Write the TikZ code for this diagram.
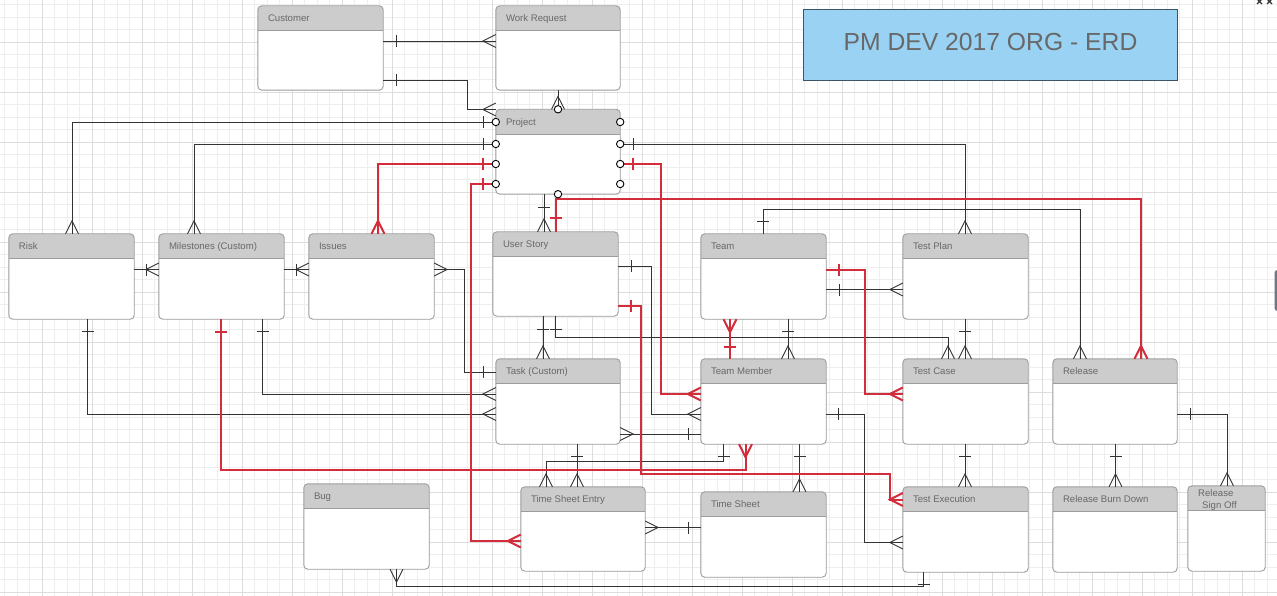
\documentclass[tikz,border=0pt]{standalone}
\usepackage{fontspec}
\setmainfont{Liberation Sans}
\usetikzlibrary{calc}
\definecolor{gridminor}{HTML}{EEEEEE}
\definecolor{gridmajor}{HTML}{DDDDDD}
\definecolor{headgray}{HTML}{CCCCCC}
\definecolor{entline}{HTML}{9C9C9C}
\definecolor{txtgray}{HTML}{686868}
\definecolor{relblack}{HTML}{333333}
\definecolor{relred}{RGB}{211,45,60}
\definecolor{titleblue}{RGB}{153,210,242}
\definecolor{titleborder}{HTML}{3D5366}
\definecolor{tabgray}{HTML}{6F7882}
\tikzset{
  rel/.style={draw=relblack, line width=0.9pt},
  relr/.style={draw=relred, line width=2pt},
  crowB/.pic={\draw[relblack, line width=0.9pt] (0,-6.5) -- (13,0) -- (0,6.5);},
  crowR/.pic={\draw[relred, line width=2pt] (0,-6.5) -- (13,0) -- (0,6.5);},
  barB/.pic={\draw[relblack, line width=0.9pt] (0,-6) -- (0,6);},
  barR/.pic={\draw[relred, line width=2pt] (0,-6) -- (0,6);},
  optc/.style={draw=black, fill=white, line width=0.9pt},
  enttitle/.style={anchor=base west, text=txtgray, font=\fontsize{9.6}{11.5}\selectfont, inner sep=0},
}
\newcommand\ent[6]{%
  \node[fill=white, rounded corners=4pt, inner sep=0, minimum width={(#4-#2)*1pt}, minimum height={(#5-#3)*1pt}] (#1) at ({(#2+#4)/2},{(#3+#5)/2}) {};
  \begin{scope}
    \clip[rounded corners=4pt] (#1.north west) rectangle (#1.south east);
    \fill[headgray] (#1.north west) rectangle ($(#1.north east)+(0,25)$);
  \end{scope}
  \draw[entline, line width=0.9pt] ($(#1.north west)+(0,25)$) -- ($(#1.north east)+(0,25)$);
  \draw[entline, line width=0.9pt, rounded corners=4pt] (#1.north west) rectangle (#1.south east);
  \node[enttitle] at ($(#1.north west)+(10,16)$) {#6};
}
\begin{document}
\begin{tikzpicture}[x=1pt,y=-1pt]
\useasboundingbox (0,0) rectangle (1277,596);
\fill[white] (0,0) rectangle (1277,596);
% grid
\foreach \i in {0,...,102} {
  \draw[gridminor, line width=0.8pt] ({4.5+12.5*\i},0) -- ({4.5+12.5*\i},596);
}
\foreach \i in {0,...,48} {
  \draw[gridminor, line width=0.8pt] (0,{4.5+12.5*\i}) -- (1277,{4.5+12.5*\i});
}
\foreach \i in {0,...,25} {
  \draw[gridmajor, line width=0.8pt] ({42+50*\i},0) -- ({42+50*\i},596);
}
\foreach \i in {0,...,11} {
  \draw[gridmajor, line width=0.8pt] (0,{42+50*\i}) -- (1277,{42+50*\i});
}
% side tab and corner marks
\fill[tabgray, rounded corners=3pt] (1274.5,270) rectangle (1286,311);
\draw[relblack, line width=1.3pt] (1257,-1) -- (1262,4) (1262,-1) -- (1257,4) (1267,-1) -- (1272,4) (1272,-1) -- (1267,4);

% title
\node[draw=titleborder, fill=titleblue, line width=0.9pt, minimum width=374pt, minimum height=71pt, inner sep=0] (title) at (990.5,44.8) {};
\node[anchor=base, text=txtgray, font=\fontsize{24.7}{28}\selectfont, inner sep=0] (titletext) at (990.5,51) {PM DEV 2017 ORG - ERD};

% entities
\ent{cust}{258}{6}{383}{90}{Customer}
\ent{wr}{496}{6}{620}{90}{Work Request}
\ent{proj}{496}{109.5}{620}{194}{Project}
\ent{risk}{9}{234}{134}{319}{Risk}
\ent{mile}{159}{234}{284}{319}{Milestones (Custom)}
\ent{iss}{309}{234}{434}{319}{Issues}
\ent{us}{493}{232}{618}{316}{User Story}
\ent{team}{701}{234}{826}{319}{Team}
\ent{tp}{903}{234}{1028}{319}{Test Plan}
\ent{task}{496}{359}{620}{444}{Task (Custom)}
\ent{tm}{701}{359}{826}{444}{Team Member}
\ent{tc}{903}{359}{1028}{444}{Test Case}
\ent{rls}{1053}{359}{1177}{444}{Release}
\ent{bug}{304}{484}{429}{569}{Bug}
\ent{tse}{521}{487}{645}{571}{Time Sheet Entry}
\ent{ts}{701}{492}{826}{577}{Time Sheet}
\ent{te}{903}{487}{1028}{572}{Test Execution}
\ent{rbd}{1053}{487}{1177}{572}{Release Burn Down}
\ent{rso}{1188}{486}{1265}{571}{}
\node[enttitle] (rsoa) at (1198,496) {Release};
\node[enttitle] (rsob) at (1202,508) {Sign Off};

% ---- black connectors
\draw[rel] (cust.east |- 0,41) -- (wr.west |- 0,41);
\path (396,41) pic{barB} (wr.west |- 0,41) pic[rotate=180]{crowB};

\draw[rel] (cust.east |- 0,80) -- (467,80) -- (467,109.5) -- (proj.west |- 0,109.5);
\path (396,80) pic{barB} (proj.west |- 0,109.5) pic[rotate=180]{crowB};

\draw[rel] (558,0 |- wr.south) -- (558,0 |- proj.north);
\path (558,0 |- proj.north) pic[rotate=90]{crowB};

\draw[rel] (proj.west |- 0,122) -- (72,122) -- (72,0 |- risk.north);
\path (483,122) pic{barB} (72,0 |- risk.north) pic[rotate=90]{crowB};

\draw[rel] (proj.west |- 0,144) -- (194,144) -- (194,0 |- mile.north);
\path (483,144) pic{barB} (194,0 |- mile.north) pic[rotate=90]{crowB};

\draw[rel] (544,0 |- proj.south) -- (544,0 |- us.north);
\path (544,207) pic[rotate=90]{barB} (544,0 |- us.north) pic[rotate=90]{crowB};

\draw[rel] (proj.east |- 0,144) -- (965,144) -- (965,0 |- tp.north);
\path (633,144) pic{barB} (965,0 |- tp.north) pic[rotate=90]{crowB};

\draw[rel] (763,0 |- team.north) -- (763,209) -- (1080,209) -- (1080,0 |- rls.north);
\path (763,221) pic[rotate=90]{barB} (1080,0 |- rls.north) pic[rotate=90]{crowB};

\draw[rel] (543,0 |- us.south) -- (543,0 |- task.north);
\path (543,329) pic[rotate=90]{barB} (543,0 |- task.north) pic[rotate=90]{crowB};

\draw[rel] (555.5,0 |- us.south) -- (555.5,337) -- (948,337) -- (948,0 |- tc.north);
\path (555.5,329) pic[rotate=90]{barB} (948,0 |- tc.north) pic[rotate=90]{crowB};

\draw[rel] (us.east |- 0,266) -- (651.5,266) -- (651.5,414) -- (tm.west |- 0,414);
\path (631,266) pic{barB} (tm.west |- 0,414) pic[rotate=180]{crowB};

\draw[rel] (788,0 |- team.south) -- (788,0 |- tm.north);
\path (788,331.5) pic[rotate=90]{barB} (788,0 |- tm.north) pic[rotate=90]{crowB};

\draw[rel] (team.east |- 0,289.5) -- (tp.west |- 0,289.5);
\path (839,289.5) pic{barB} (tp.west |- 0,289.5) pic[rotate=180]{crowB};

\draw[rel] (965,0 |- tp.south) -- (965,0 |- tc.north);
\path (965,331.5) pic[rotate=90]{barB} (965,0 |- tc.north) pic[rotate=90]{crowB};

\draw[rel] (iss.east |- 0,269.5) -- (464.5,269.5) -- (464.5,372) -- (task.west |- 0,372);
\path (iss.east |- 0,269.5) pic{crowB} (483.3,372) pic{barB};

\draw[rel] (262.5,0 |- mile.south) -- (262.5,394) -- (task.west |- 0,394);
\path (262.5,331.5) pic[rotate=90]{barB} (task.west |- 0,394) pic[rotate=180]{crowB};

\draw[rel] (87.5,0 |- risk.south) -- (87.5,414) -- (task.west |- 0,414);
\path (87.5,331.5) pic[rotate=90]{barB} (task.west |- 0,414) pic[rotate=180]{crowB};

\draw[rel] (risk.east |- 0,269.5) -- (mile.west |- 0,269.5);
\path (146.5,269.5) pic{barB} (mile.west |- 0,269.5) pic[rotate=180]{crowB};

\draw[rel] (mile.east |- 0,269.5) -- (iss.west |- 0,269.5);
\path (296,269.5) pic{barB} (iss.west |- 0,269.5) pic[rotate=180]{crowB};

\draw[rel] (task.east |- 0,434) -- (tm.west |- 0,434);
\path (task.east |- 0,434) pic{crowB} (688.5,434) pic{barB};

\draw[rel] (577,0 |- task.south) -- (577,0 |- tse.north);
\path (577,456.5) pic[rotate=90]{barB} (577,0 |- tse.north) pic[rotate=90]{crowB};

\draw[rel] (723.5,0 |- tm.south) -- (723.5,461.5) -- (546,461.5) -- (546,0 |- tse.north);
\path (723.5,456.5) pic[rotate=90]{barB} (546,0 |- tse.north) pic[rotate=90]{crowB};

\draw[rel] (799.5,0 |- tm.south) -- (799.5,0 |- ts.north);
\path (799.5,456.5) pic[rotate=90]{barB} (799.5,0 |- ts.north) pic[rotate=90]{crowB};

\draw[rel] (tm.east |- 0,414) -- (864.5,414) -- (864.5,542.5) -- (te.west |- 0,542.5);
\path (838.5,414) pic{barB} (te.west |- 0,542.5) pic[rotate=180]{crowB};

\draw[rel] (tse.east |- 0,527.5) -- (ts.west |- 0,527.5);
\path (tse.east |- 0,527.5) pic{crowB} (688.5,527.5) pic{barB};

\draw[rel] (965,0 |- tc.south) -- (965,0 |- te.north);
\path (965,456.5) pic[rotate=90]{barB} (965,0 |- te.north) pic[rotate=90]{crowB};

\draw[rel] (1115.5,0 |- rls.south) -- (1115.5,0 |- rbd.north);
\path (1115.5,456.5) pic[rotate=90]{barB} (1115.5,0 |- rbd.north) pic[rotate=90]{crowB};

\draw[rel] (rls.east |- 0,414) -- (1227,414) -- (1227,0 |- rso.north);
\path (1190.5,414) pic{barB} (1227,0 |- rso.north) pic[rotate=90]{crowB};

\draw[rel] (396.5,0 |- bug.south) -- (396.5,586.5) -- (923.5,586.5) -- (923.5,0 |- te.south);
\path (396.5,0 |- bug.south) pic[rotate=-90]{crowB} (923.5,584) pic[rotate=90]{barB};

% ---- red connectors
\draw[relr] (proj.west |- 0,164) -- (378,164) -- (378,0 |- iss.north);
\path (483,164) pic{barR} (378,0 |- iss.north) pic[rotate=90]{crowR};

\draw[relr] (proj.west |- 0,184) -- (471,184) -- (471,541) -- (tse.west |- 0,541);
\path (483,184) pic{barR} (tse.west |- 0,541) pic[rotate=180]{crowR};

\draw[relr] (555.5,0 |- us.north) -- (555.5,199) -- (1141,199) -- (1141,0 |- rls.north);
\path (555.5,218.5) pic[rotate=90]{barR} (1141,0 |- rls.north) pic[rotate=90]{crowR};

\draw[relr] (proj.east |- 0,164) -- (661,164) -- (661,394) -- (tm.west |- 0,394);
\path (633,164) pic{barR} (tm.west |- 0,394) pic[rotate=180]{crowR};

\draw[relr] (us.east |- 0,306) -- (641,306) -- (641,473.5) -- (890,473.5) -- (890,499.5) -- (te.west |- 0,499.5);
\path (631,306) pic{barR} (te.west |- 0,499.5) pic[rotate=180]{crowR};

\draw[relr] (730,0 |- team.south) -- (730,0 |- tm.north);
\path (730,0 |- team.south) pic[rotate=-90]{crowR} (730,346.5) pic[rotate=90]{barR};

\draw[relr] (team.east |- 0,269.5) -- (864.5,269.5) -- (864.5,394) -- (tc.west |- 0,394);
\path (839,269.5) pic{barR} (tc.west |- 0,394) pic[rotate=180]{crowR};

\draw[relr] (221,0 |- mile.south) -- (221,469.5) -- (745.5,469.5) -- (745.5,0 |- tm.south);
\path (221,331.5) pic[rotate=90]{barR} (745.5,0 |- tm.south) pic[rotate=-90]{crowR};

% ---- optional markers on Project
\foreach \yy in {122,144,164,184} {
  \draw[optc] (proj.west |- 0,\yy) circle (3.7pt);
  \draw[optc] (proj.east |- 0,\yy) circle (3.7pt);
}
\draw[optc] (558,0 |- proj.north) circle (3.7pt);
\draw[optc] (558,0 |- proj.south) circle (3.7pt);
\end{tikzpicture}
\end{document}
